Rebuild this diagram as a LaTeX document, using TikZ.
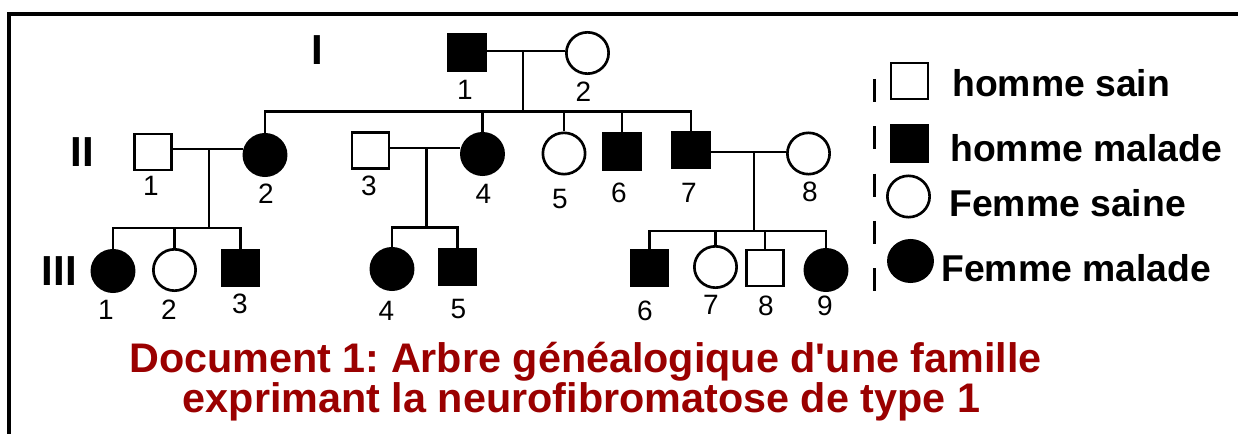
\documentclass[tikz,border=0pt]{standalone}
\usepackage{fontspec}
\setmainfont{Liberation Sans}[Ligatures=TeXOff]
\usetikzlibrary{shapes.geometric}
\definecolor{titlered}{HTML}{9A0000}
\frenchspacing
\begin{document}
\begin{tikzpicture}[x=0.75pt,y=-0.75pt,
  line width=2pt,
  sq/.style={rectangle, draw=black, minimum width=27.75pt, minimum height=27pt, inner sep=0pt},
  sqf/.style={sq, fill=black},
  ci/.style={ellipse, draw=black, minimum width=31.7pt, minimum height=31pt, inner sep=0pt},
  cif/.style={ci, fill=black},
  num/.style={font=\fontsize{21}{21}\selectfont, inner sep=0pt},
  gen/.style={font=\bfseries\fontsize{31.5}{31.5}\selectfont, inner sep=0pt},
  lgtext/.style={font=\bfseries\fontsize{28}{28}\selectfont, anchor=base west, inner sep=0pt},
  ttext/.style={font=\bfseries\fontsize{31}{31}\selectfont, text=titlered, anchor=base, inner sep=0pt},
  legdash/.style={line width=2.2pt, dash pattern=on 17.25pt off 18.2pt}
]
\useasboundingbox (0,0) rectangle (1238,434);
% frame
\draw[line width=3pt, line join=miter] (9,440) -- (9,14) -- (1245,14);

% generation labels
\node[gen] (gI) at (317,50) {I};
\node[gen] (gII) at (82.5,152.5) {II};
\node[gen] (gIII) at (59.5,271) {III};

% generation I
\node[sqf] (I1) at (467,52.5) {};
\node[ci]  (I2) at (587.5,53) {};
\node[num] (nI1) at (465,90) {1};
\node[num] (nI2) at (583.5,92) {2};

% generation II
\node[sq]  (II1) at (153,152) {};
\node[cif] (II2) at (265,155) {};
\node[sq]  (II3) at (370.5,150.5) {};
\node[cif] (II4) at (482.5,154) {};
\node[ci]  (II5) at (564,153.5) {};
\node[sqf] (II6) at (622,151.5) {};
\node[sqf] (II7) at (691,150) {};
\node[ci]  (II8) at (808.5,153.5) {};
\node[num] (nII1) at (151,186) {1};
\node[num] (nII2) at (266,194) {2};
\node[num] (nII3) at (369,186) {3};
\node[num] (nII4) at (483.5,194) {4};
\node[num] (nII5) at (560,199) {5};
\node[num] (nII6) at (619,193) {6};
\node[num] (nII7) at (689,193) {7};
\node[num] (nII8) at (810,192) {8};

% generation III
\node[cif] (III1) at (113,271) {};
\node[ci]  (III2) at (174.5,270) {};
\node[sqf] (III3) at (240.5,268) {};
\node[cif] (III4) at (392,269) {};
\node[sqf] (III5) at (457.5,267) {};
\node[sqf] (III6) at (649.5,268) {};
\node[ci]  (III7) at (715.5,267) {};
\node[sq]  (III8) at (765,268) {};
\node[cif] (III9) at (826,270) {};
\node[num] (nIII1) at (106,310) {1};
\node[num] (nIII2) at (169,310) {2};
\node[num] (nIII3) at (240,304) {3};
\node[num] (nIII4) at (386.5,311) {4};
\node[num] (nIII5) at (458.5,309) {5};
\node[num] (nIII6) at (645,311) {6};
\node[num] (nIII7) at (711,305) {7};
\node[num] (nIII8) at (766,306) {8};
\node[num] (nIII9) at (825,306) {9};

% couple and sibship coordinates
\coordinate (cI) at (523,51);
\coordinate (sII) at (523,111.5);
\coordinate (cII12) at (209,149);
\coordinate (sIIIa) at (209,228);
\coordinate (cII34) at (426.5,148);
\coordinate (sIIIb) at (426.5,227.5);
\coordinate (cII78) at (754,152);
\coordinate (sIIIc) at (754,231);

% generation I couple
\draw (I1.east |- cI) -- (I2.west |- cI);
\draw (cI) -- (sII);
\draw (II2.north) |- (II7.north |- sII) -- (II7.north);
\draw (II4.north) -- (II4.north |- sII);
\draw (II5.north) -- (II5.north |- sII);
\draw (II6.north) -- (II6.north |- sII);

% II-1 x II-2
\draw (II1.east |- cII12) -- (II2.west |- cII12);
\draw (cII12) -- (sIIIa);
\draw (III1.north) |- (III3.north |- sIIIa) -- (III3.north);
\draw (III2.north) -- (III2.north |- sIIIa);

% II-3 x II-4
\draw (II3.east |- cII34) -- (II4.west |- cII34);
\draw (cII34) -- (sIIIb);
\draw (III4.north) |- (III5.north |- sIIIb) -- (III5.north);

% II-7 x II-8
\draw (II7.east |- cII78) -- (II8.west |- cII78);
\draw (cII78) -- (sIIIc);
\draw (III6.north) |- (III9.north |- sIIIc) -- (III9.north);
\draw (III7.north) -- (III7.north |- sIIIc);
\draw (III8.north) -- (III8.north |- sIIIc);

% legend
\coordinate (dA) at (874.5,79);
\coordinate (dB) at (874.5,294);
\draw[legdash] (dA) -- (dB);
\node[sq]  (L1) at (909.5,81) {};
\node[sqf] (L2) at (909.5,143.5) {};
\node[ci]  (L3) at (908.5,196.5) {};
\node[cif, minimum width=33.2pt] (L4) at (910.5,261) {};
\node[lgtext] (tL1) at (951,97) {homme sain};
\node[lgtext] (tL2) at (949,162) {homme malade};
\node[lgtext] (tL3) at (948,217) {Femme saine};
\node[lgtext] (tL4) at (940,282) {Femme malade};

% title
\node[ttext] (title1) at (585.5,373) {Document 1: Arbre généalogique d'une famille};
\node[ttext] (title2) at (581.5,412) {exprimant la neurofibromatose de type 1};
\end{tikzpicture}
\end{document}
